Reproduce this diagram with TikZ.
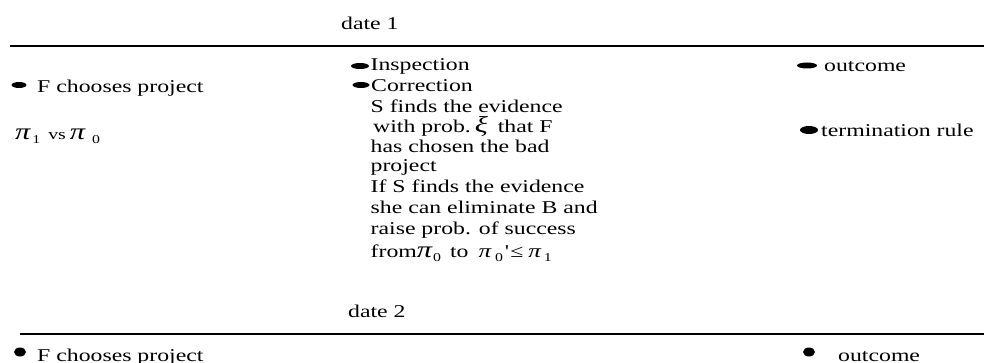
\documentclass[tikz,border=0pt]{standalone}
\usepackage{fontspec}
\setmainfont{Liberation Serif}[FakeStretch=1.32]
\newfontfamily\nomapfont{Liberation Serif}[FakeStretch=1.32]
\usetikzlibrary{shapes.geometric}
\newcommand{\bigpi}{{\fontsize{23}{23}\selectfont\itshape π}}
\newcommand{\midpi}{{\fontsize{19}{19}\selectfont\itshape π}}
\newcommand{\subnum}[1]{\raisebox{-4pt}{\fontsize{12}{12}\selectfont #1}}
\begin{document}
\begin{tikzpicture}[x=1pt,y=-1pt,
  txt/.style={anchor=base west,inner sep=0pt,font=\fontsize{18}{20.7}\selectfont},
  dot/.style={ellipse,fill=black,draw=none,inner sep=0pt},
  rule/.style={line width=1.3pt,draw=black}]
\useasboundingbox (0,0) rectangle (984,363);
% rules
\coordinate (r1a) at (10,46);
\coordinate (r1b) at (984,46);
\coordinate (r2a) at (20,334);
\coordinate (r2b) at (984,334);
\draw[rule] (r1a) -- (r1b);
\draw[rule] (r2a) -- (r2b);
% date labels
\node[txt] (date1) at (341,29.5) {date 1};
\node[txt] (date2) at (348,317) {date 2};
% left column, date 1
\node[dot,minimum width=15pt,minimum height=6pt] (bF1) at (19,85) {};
\node[txt] (F1) at (37,93) {F chooses project};
\node[txt] (pis) at (15,140) {\bigpi\hspace{2pt}\subnum{1}\hspace{8pt}{\fontsize{15}{15}\selectfont vs}\hspace{4pt}\bigpi\hspace{7pt}\subnum{0}};
% middle column
\node[dot,minimum width=18pt,minimum height=6pt] (bIns) at (360,66) {};
\node[txt] (m1) at (370.5,71) {Inspection};
\node[dot,minimum width=17pt,minimum height=6pt] (bCor) at (361,85) {};
\node[txt] (m2) at (371,92) {Correction};
\node[txt] (m3) at (370.5,113) {S finds the evidence};
\node[txt] (m4) at (373,133) {with prob.\hspace{4pt}{\fontsize{23}{23}\selectfont\itshape ξ}\hspace{10pt}that F};
\node[txt] (m5) at (370.5,153) {has chosen the bad};
\node[txt] (m6) at (370.5,172) {project};
\node[txt] (m7) at (370.5,193) {If S finds the evidence};
\node[txt] (m8) at (370.5,214) {she can eliminate B and};
\node[txt] (m9) at (370.5,235) {raise prob. of success};
\node[txt] (m10) at (370.5,257) {from\bigpi\hspace{1pt}\subnum{0}\hspace{9pt}to\hspace{10pt}\midpi\hspace{4pt}\subnum{0}\hspace{2pt}{\nomapfont '}\hspace{1pt}≤\hspace{5pt}\midpi\hspace{3pt}\subnum{1}};
% right column
\node[dot,minimum width=20pt,minimum height=6pt] (bOut1) at (807,65.5) {};
\node[txt] (o1) at (824,72) {outcome};
\node[dot,minimum width=18pt,minimum height=8pt] (bTerm) at (809,130) {};
\node[txt] (term) at (821,137) {termination rule};
% date 2 row
\node[dot,minimum width=12pt,minimum height=9pt] (bF2) at (20,352) {};
\node[txt] (F2) at (37,361) {F chooses project};
\node[dot,minimum width=12pt,minimum height=9pt] (bOut2) at (809,352) {};
\node[txt] (o2) at (838,361) {outcome};
\end{tikzpicture}
\end{document}
